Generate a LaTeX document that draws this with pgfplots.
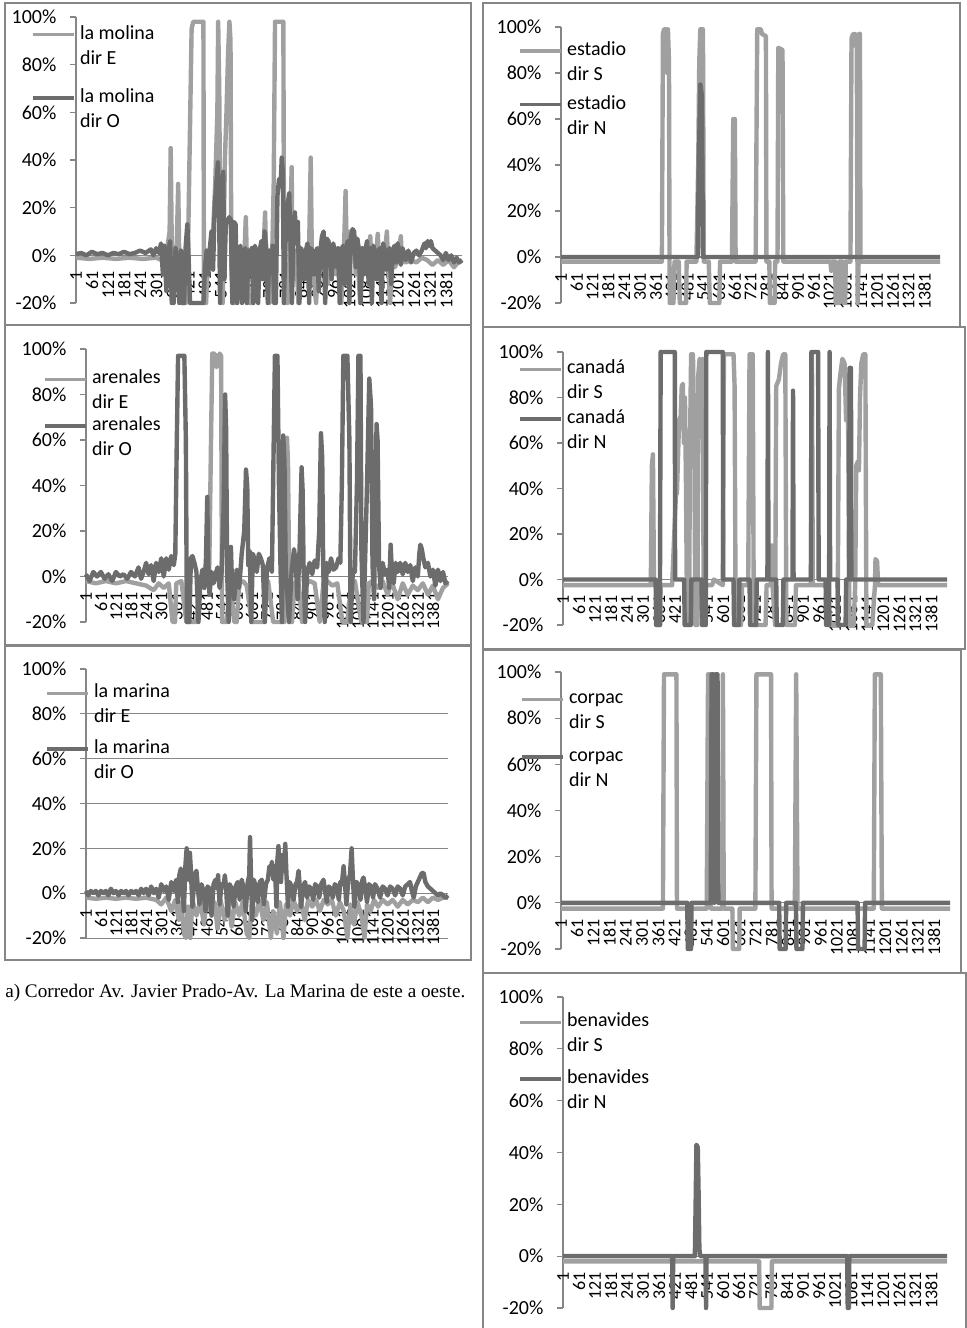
\documentclass[border=0pt]{standalone}
\usepackage{fontspec}
\setmainfont{Carlito}
\newfontfamily\capfont{Liberation Serif}
\usepackage{pgfplots}
\pgfplotsset{compat=1.18}
\definecolor{lightser}{RGB}{160,160,160}
\definecolor{darkser}{RGB}{108,108,108}
\definecolor{axisgray}{RGB}{134,134,134}
\newcommand{\lgd}[2]{\begin{tabular}[t]{@{}l@{}}#1\\#2\end{tabular}}
\pgfplotsset{
  panel/.style={
    scale only axis, anchor=south west,
    xmin=1, xmax=1440, ymin=-20, ymax=100,
    axis x line=middle, axis y line=left,
    axis line style={-, draw=axisgray, line width=0.8pt},
    hide obscured x ticks=false, hide obscured y ticks=false,
    xtick={1,61,...,1381},
    ytick={-20,0,...,100},
    tick align=outside,
    major tick length=4.5pt,
    ytick style={draw=axisgray, line width=0.8pt},
    xtick style={draw=none},
    yticklabel style={font=\fontsize{15}{17}\selectfont},
    xticklabel style={font=\fontsize{13.5}{15}\selectfont, yshift=-7.5pt, rotate=90, anchor=east, inner sep=0pt},
    yticklabel={\pgfmathprintnumber{\tick}\%},
    yticklabel style={anchor=east, inner sep=0pt, xshift=-10pt},
    /pgf/number format/assume math mode=true,
    /pgf/number format/1000 sep={},
    clip=false,
    every axis plot/.append style={line width=3.3pt, line join=round, no markers},
    legend image code/.code={\draw[##1, line width=2.6pt] (0pt,3.5pt) -- (31pt,3.5pt);},
    legend style={draw=none, fill=none, inner sep=0pt, column sep=3pt,
      cells={anchor=base west}, nodes={inner sep=0pt},
      font=\fontsize{15}{18.75}\selectfont, anchor=north west},
  }
}
\begin{document}
\begin{tikzpicture}
\path[use as bounding box] (0,0) rectangle (725.25pt,-996pt);
% frames
\begin{scope}[draw=axisgray, line width=1.1pt]
\draw (3.75pt,-2.25pt) rectangle (353.25pt,-243.75pt);
\draw (3.75pt,-243.75pt) rectangle (353.25pt,-483.75pt);
\draw (3.75pt,-484.5pt) rectangle (353.25pt,-720pt);
\draw (362.25pt,-2.25pt) rectangle (720pt,-245.25pt);
\draw (362.25pt,-245.25pt) rectangle (723.75pt,-486.75pt);
\draw (362.25pt,-487.5pt) rectangle (720.75pt,-729.75pt);
\draw (362.25pt,-1010pt) -- (362.25pt,-729.75pt) -- (724.5pt,-729.75pt) -- (724.5pt,-1010pt);
\end{scope}

% ---------------- la molina
\begin{axis}[panel, at={(57pt,-227.25pt)}, width=289.5pt, height=214.5pt,
  legend style={at={(axis description cs:-0.1166,0.985)}, row sep=33pt}]
\addplot[color=lightser] coordinates {(1,-1)(50,-1.5)(100,-1)(150,-1.5)(200,-1)(250,-1.5)(300,-1)(320,-2)(340,2)(350,10)(354,45)(358,5)(366,-2)(375,-3)(382,30)(386,-2)(395,-20)(410,-20)(418,-2)(424,40)(432,95)(438,98)(476,98)(478,-20)(486,-20)(492,-3)(500,-1)(510,5)(520,30)(528,60)(531,98)(535,70)(540,-10)(548,-20)(556,40)(562,60)(568,85)(573,98)(577,90)(580,-5)(586,-20)(594,-20)(600,-2)(610,-1)(620,-5)(628,-2)(634,16)(638,-2)(646,-20)(660,-20)(670,-3)(680,-1)(690,-6)(700,2)(706,18)(710,-2)(718,-15)(724,-20)(732,-2)(738,30)(743,98)(774,98)(777,-20)(790,-20)(797,-2)(805,37)(808,-3)(815,-10)(822,2)(830,-20)(840,-3)(850,-1)(860,-8)(870,3)(876,41)(880,2)(888,-10)(896,-20)(904,-2)(912,-1)(922,-5)(930,-2)(940,-12)(950,-2)(960,-1)(970,-8)(980,-2)(990,-20)(998,-2)(1002,10)(1006,27)(1010,2)(1016,-3)(1020,10)(1028,9)(1036,10)(1044,-8)(1052,-2)(1060,-20)(1070,-2)(1080,-6)(1090,-1)(1098,8)(1102,-2)(1110,-10)(1118,-2)(1126,9)(1130,-1)(1140,-8)(1150,-2)(1160,10)(1164,-2)(1172,-20)(1180,-2)(1190,-5)(1200,-2)(1212,8)(1216,-2)(1230,-3)(1250,-2)(1270,-3)(1290,-1)(1310,-2)(1330,-4)(1350,-2)(1370,-4)(1390,-2)(1410,-5)(1425,-3)(1440,-2)};
\addlegendentry{\lgd{la molina}{dir E}}
\addplot[color=darkser] coordinates {(1,0.5)(20,1)(40,0)(60,1.5)(80,0.5)(100,1)(120,0)(140,1)(160,0.5)(180,1.5)(200,0.5)(220,1)(240,2)(260,1)(280,2.5)(290,0)(300,3)(310,1)(318,5)(325,-8)(330,4)(338,-15)(345,2)(352,6)(358,-20)(365,-20)(372,3)(380,-5)(386,-20)(392,2)(398,-20)(404,-20)(410,4)(416,13)(420,2)(426,-20)(476,-20)(482,-5)(488,2)(494,-8)(500,3)(506,10)(512,-6)(518,20)(524,30)(530,39)(534,25)(538,-20)(542,5)(546,15)(550,35)(554,-10)(560,15)(566,14)(572,16)(578,15)(584,-20)(590,14)(596,13)(602,-20)(608,2)(614,4)(620,-20)(626,1)(632,3)(638,-20)(644,2)(650,-8)(656,3)(662,-20)(668,4)(674,1)(680,-20)(686,2)(692,6)(698,-10)(704,10)(710,3)(716,-20)(722,2)(728,-5)(734,4)(740,-20)(746,-20)(752,25)(758,32)(764,30)(768,41)(772,35)(776,-20)(782,5)(788,20)(796,26)(800,8)(806,-20)(812,10)(817,18)(822,5)(828,14)(834,-20)(840,3)(846,1)(852,-10)(858,2)(864,5)(870,-20)(876,3)(882,2)(888,-8)(894,1)(900,3)(906,-15)(912,2)(918,8)(924,10)(930,-20)(936,7)(942,6)(948,2)(954,-10)(960,5)(966,1)(972,-5)(978,3)(984,-20)(990,2)(996,4)(1002,-12)(1008,3)(1014,6)(1020,-20)(1026,8)(1032,11)(1038,10)(1044,-5)(1050,7)(1056,2)(1062,-20)(1068,3)(1074,-8)(1080,2)(1086,6)(1092,-12)(1098,3)(1104,-20)(1110,4)(1116,1)(1122,-10)(1128,2)(1134,3)(1140,-20)(1146,5)(1152,2)(1158,-6)(1164,1)(1170,3)(1176,-12)(1182,2)(1188,4)(1194,-3)(1200,5)(1206,2)(1212,-4)(1218,3)(1224,1)(1230,-2)(1240,2)(1250,-3)(1260,1)(1270,2)(1280,0)(1290,2)(1300,5)(1306,3)(1312,6)(1318,4)(1324,6)(1330,3)(1340,2)(1350,1)(1360,0)(1370,-2)(1380,1)(1390,-2)(1400,0)(1410,-3)(1420,-1)(1430,-3)(1440,-2)};
\addlegendentry{\lgd{la molina}{dir O}}
\end{axis}

% ---------------- arenales
\begin{axis}[panel, at={(64.5pt,-466.5pt)}, width=271.5pt, height=204.75pt,
  legend style={at={(axis description cs:-0.1188,0.937)}, row sep=20.25pt}]
\addplot[color=lightser] coordinates {(1,-2)(40,-3)(80,-2)(120,-3)(160,-2)(200,-3)(240,-4)(270,-6)(290,-3)(310,-5)(330,-3)(345,-20)(355,-20)(360,-3)(380,-2)(400,-20)(440,-20)(455,-3)(470,-2)(490,-4)(498,60)(503,98)(512,98)(520,92)(526,95)(532,98)(538,97)(542,-20)(560,-20)(575,-3)(590,-20)(600,-20)(610,-3)(625,-2)(640,-4)(660,-20)(710,-20)(712,-3)(725,-2)(745,-20)(790,-20)(800,61)(804,50)(810,-20)(820,-20)(830,-3)(845,-2)(860,-20)(870,-4)(890,-2)(910,-3)(930,-20)(945,-3)(960,-2)(980,-4)(1000,-3)(1020,-20)(1040,-20)(1055,-3)(1070,-2)(1095,-20)(1118,-20)(1125,-3)(1140,-2)(1160,-5)(1180,-2)(1200,-8)(1215,-2)(1240,-10)(1260,-3)(1280,-8)(1300,-4)(1320,-6)(1340,-3)(1360,-8)(1380,-4)(1400,-10)(1420,-5)(1440,-3)};
\addlegendentry{\lgd{arenales}{dir E}}
\addplot[color=darkser] coordinates {(1,1)(15,-2)(30,2)(45,0)(60,2)(75,-1)(90,1)(105,-2)(120,2)(135,0)(150,1)(165,-1)(180,2)(195,0)(210,4)(220,-1)(230,2)(240,6)(250,1)(260,5)(270,-2)(280,6)(290,2)(300,8)(310,0)(320,8)(330,3)(340,9)(350,5)(356,10)(362,60)(367,97)(392,97)(398,60)(402,-20)(412,-20)(418,8)(424,9)(432,6)(440,2)(448,-20)(456,-2)(464,3)(472,-5)(478,8)(483,35)(487,5)(492,-8)(500,2)(508,-3)(516,1)(524,4)(532,-5)(540,2)(548,30)(554,80)(558,65)(562,2)(568,-20)(574,5)(577,13)(580,2)(590,-10)(600,3)(610,-5)(620,10)(630,20)(637,47)(642,40)(646,5)(652,11)(658,-20)(664,10)(670,8)(680,2)(688,10)(696,8)(704,5)(712,-20)(720,3)(730,8)(740,2)(746,50)(752,97)(762,97)(768,40)(774,5)(780,-20)(785,62)(790,50)(795,3)(808,-20)(818,2)(828,12)(835,5)(842,-10)(850,12)(858,48)(862,38)(866,3)(872,-20)(880,2)(890,6)(900,1)(910,7)(920,4)(928,20)(935,63)(940,52)(944,3)(950,-20)(958,6)(966,2)(975,8)(985,3)(995,4)(1005,8)(1012,6)(1018,40)(1024,97)(1040,97)(1048,60)(1053,-20)(1062,3)(1070,2)(1078,40)(1084,97)(1092,97)(1096,10)(1104,-20)(1110,5)(1118,40)(1127,87)(1134,75)(1140,5)(1146,-10)(1150,20)(1156,67)(1160,60)(1166,5)(1172,-5)(1180,6)(1190,1)(1200,3)(1206,-5)(1212,14)(1216,4)(1224,-3)(1232,6)(1240,2)(1250,6)(1260,1)(1270,6)(1280,2)(1290,5)(1300,-2)(1310,4)(1320,0)(1326,10)(1330,14)(1336,12)(1342,8)(1350,4)(1360,6)(1370,0)(1380,3)(1390,-4)(1400,3)(1410,-2)(1420,2)(1430,-3)(1440,-2)};
\addlegendentry{\lgd{arenales}{dir O}}
\end{axis}

% ---------------- la marina
\begin{axis}[panel, at={(64.5pt,-703.5pt)}, width=271.5pt, height=201.75pt,
  ytick={-20,0,...,80}, extra y ticks={100}, extra y tick style={grid=none},
  ymajorgrids, grid style={draw=axisgray, line width=0.75pt},
  legend style={at={(axis description cs:-0.1133,0.9584)}, row sep=27pt}]
\addplot[color=lightser] coordinates {(1,-2)(40,-2.5)(80,-2)(120,-2.5)(160,-2)(200,-2.5)(240,-2)(280,-3)(300,-5)(320,-2)(340,-8)(356,-3)(370,-12)(380,-4)(390,-18)(398,-20)(406,-6)(416,-20)(424,-3)(440,-10)(456,-4)(470,-14)(480,-3)(496,-8)(512,-4)(524,-16)(536,-3)(552,-12)(566,-4)(580,-15)(594,-4)(610,-10)(624,-4)(640,-18)(650,-20)(660,-5)(676,-10)(690,-3)(706,-12)(720,-4)(736,-20)(746,-8)(760,-18)(772,-4)(786,-20)(796,-5)(812,-10)(826,-3)(840,-8)(856,-4)(870,-12)(884,-3)(900,-6)(916,-3)(930,-8)(946,-3)(962,-5)(978,-3)(994,-10)(1010,-4)(1026,-8)(1040,-20)(1052,-5)(1066,-14)(1080,-4)(1096,-10)(1108,-20)(1118,-5)(1132,-8)(1146,-3)(1162,-6)(1180,-3)(1200,-5)(1220,-3)(1240,-6)(1260,-3)(1280,-5)(1300,-3)(1320,-4)(1340,-2)(1360,-4)(1380,-2)(1400,-3)(1420,-2)(1440,-2)};
\addlegendentry{\lgd{la marina}{dir E}}
\addplot[color=darkser] coordinates {(1,1)(10,-1)(20,1)(30,0)(40,1)(50,-1)(60,1)(70,0)(80,1)(90,-1)(100,2)(110,0)(120,1)(130,-1)(140,1)(150,0)(160,1)(170,-1)(180,1)(190,0)(200,1)(210,-1)(220,2)(230,0)(240,2)(250,-1)(260,3)(270,0)(280,2)(290,-2)(300,4)(310,1)(320,3)(330,-3)(340,5)(350,1)(360,6)(366,-4)(372,8)(378,11)(384,3)(390,-8)(396,12)(401,20)(406,15)(410,6)(414,18)(418,10)(424,-6)(430,5)(436,9)(440,10)(446,2)(452,-5)(460,4)(468,1)(476,-8)(484,3)(492,2)(500,-10)(508,4)(516,6)(522,2)(526,8)(532,-5)(540,4)(548,3)(553,8)(558,2)(564,-10)(572,4)(580,2)(588,-6)(596,3)(604,5)(612,-3)(620,6)(628,2)(636,-8)(644,5)(650,8)(653,25)(657,7)(662,-12)(668,6)(676,3)(684,-4)(692,5)(700,6)(708,-5)(716,4)(724,6)(730,12)(735,9)(740,14)(746,6)(752,12)(758,-6)(762,15)(766,21)(770,13)(776,5)(782,17)(788,10)(793,22)(798,8)(804,-6)(810,5)(818,3)(826,-3)(834,4)(840,5)(846,10)(850,4)(856,-6)(864,3)(872,5)(880,-2)(888,3)(896,2)(904,-3)(912,4)(920,3)(928,-2)(936,4)(945,6)(950,2)(958,-4)(966,3)(974,2)(982,-2)(990,4)(998,3)(1006,-3)(1012,5)(1018,4)(1025,12)(1030,5)(1036,-5)(1044,6)(1050,8)(1057,20)(1062,6)(1068,-6)(1076,5)(1084,4)(1092,-3)(1100,6)(1104,7)(1110,3)(1118,-4)(1126,4)(1134,3)(1142,-2)(1150,4)(1160,2)(1170,-2)(1180,3)(1190,2)(1200,-1)(1210,3)(1220,2)(1230,-1)(1240,3)(1250,2)(1260,-1)(1270,3)(1280,4)(1289,5)(1296,1)(1304,-2)(1312,3)(1320,5)(1328,7)(1336,9)(1343,9)(1350,5)(1360,3)(1370,2)(1380,1)(1390,0)(1400,-1)(1410,0)(1420,-1)(1430,-2)(1440,-1)};
\addlegendentry{\lgd{la marina}{dir O}}
\end{axis}

% ---------------- estadio
\begin{axis}[panel, at={(420.75pt,-227.25pt)}, width=284.25pt, height=207pt,
  legend style={at={(axis description cs:-0.1135,0.96)}, row sep=25.5pt}]
\addplot[color=lightser] coordinates {(1,-2)(384,-2)(388,97)(392,99)(400,99)(404,80)(407,99)(411,85)(413,-2)(414,-20)(428,-20)(432,-2)(448,-2)(452,-20)(476,-20)(478,-2)(515,-2)(522,40)(526,85)(530,99)(540,99)(543,-2)(562,-2)(566,-20)(602,-20)(605,-2)(650,-2)(655,60)(661,60)(664,-2)(740,-2)(746,99)(760,99)(764,97)(779,96)(781,-2)(792,-2)(794,-20)(812,-20)(814,-2)(823,-2)(826,91)(842,90)(845,-2)(1024,-2)(1027,-6)(1030,-2)(1042,-2)(1044,-20)(1056,-20)(1058,-2)(1070,-2)(1073,-20)(1080,-20)(1082,-2)(1100,-2)(1104,95)(1110,97)(1114,92)(1118,97)(1124,96)(1127,-20)(1131,-2)(1133,97)(1136,97)(1138,-2)(1440,-2)};
\addlegendentry{\lgd{estadio}{dir S}}
\addplot[color=darkser] coordinates {(1,0)(520,0)(524,40)(530,75)(536,70)(540,0)(1440,0)};
\addlegendentry{\lgd{estadio}{dir N}}
\end{axis}

% ---------------- canada
\begin{axis}[panel, at={(422.25pt,-468.75pt)}, width=288pt, height=204.75pt,
  legend style={at={(axis description cs:-0.1172,0.9846)}, row sep=22.5pt}]
\addplot[color=lightser] coordinates {(1,-2.5)(330,-2.5)(334,50)(338,55)(342,-2.5)(350,-2.5)(352,-20)(365,-20)(367,-2.5)(410,-2.5)(424,37)(428,38)(436,70)(442,72)(446,85)(450,86)(454,60)(458,80)(462,40)(466,-20)(474,-20)(476,50)(481,99)(488,99)(493,60)(497,-20)(505,-20)(508,90)(513,97)(518,96)(524,97)(528,-2.5)(560,-2.5)(566,0)(600,-2.5)(604,99)(640,99)(644,85)(648,-20)(668,-20)(672,-2.5)(695,-2.5)(700,99)(712,99)(716,-20)(760,-20)(764,-2.5)(780,-2.5)(783,15)(786,-2.5)(796,-20)(800,85)(810,88)(818,95)(826,99)(834,99)(838,-20)(870,-20)(874,-2.5)(930,-2.5)(934,99)(937,-2.5)(990,-2.5)(1003,-20)(1030,-20)(1035,84)(1040,90)(1048,97)(1056,95)(1062,70)(1066,90)(1070,60)(1074,-20)(1090,-20)(1096,-2.5)(1100,50)(1106,52)(1110,48)(1114,80)(1119,95)(1126,99)(1134,99)(1138,-20)(1160,-20)(1170,-2.5)(1172,9)(1178,8)(1182,-2.5)(1440,-2.5)};
\addlegendentry{\lgd{canadá}{dir S}}
\addplot[color=darkser] coordinates {(1,0)(348,0)(350,-20)(364,-20)(367,100)(420,100)(421,0)(455,0)(457,-20)(480,-20)(482,0)(520,0)(522,-20)(536,-20)(538,100)(600,100)(601,0)(640,0)(642,-20)(660,-20)(662,0)(700,0)(702,-20)(725,-20)(727,0)(767,0)(769,100)(771,0)(800,0)(802,-20)(825,-20)(827,0)(861,0)(863,83)(865,0)(930,0)(932,100)(957,100)(959,0)(985,0)(987,-20)(998,-20)(1000,100)(1002,0)(1030,0)(1032,-20)(1060,-20)(1062,0)(1073,0)(1075,93)(1080,93)(1082,0)(1440,0)};
\addlegendentry{\lgd{canadá}{dir N}}
\end{axis}

% ---------------- corpac
\begin{axis}[panel, at={(420.75pt,-711.75pt)}, width=291.75pt, height=207.75pt,
  legend style={at={(axis description cs:-0.1054,0.9487)}, row sep=28.5pt}]
\addplot[color=lightser] coordinates {(1,-2.5)(378,-2.5)(382,99)(428,99)(430,-2.5)(540,-2.5)(545,99)(552,99)(556,-2.5)(598,-2.5)(600,99)(603,-2.5)(635,-2.5)(637,-20)(660,-20)(662,-2.5)(720,-2.5)(724,99)(778,99)(780,-2.5)(866,-2.5)(871,99)(876,-2.5)(1158,-2.5)(1162,99)(1184,99)(1188,-2.5)(1440,-2.5)};
\addlegendentry{\lgd{corpac}{dir S}}
\addplot[color=darkser] coordinates {(1,0)(468,0)(470,-20)(482,-20)(484,0)(555,0)(558,99)(564,99)(568,0)(572,99)(580,99)(583,0)(808,0)(810,-20)(832,-20)(834,0)(870,0)(872,-20)(894,-20)(896,0)(1098,0)(1100,-20)(1124,-20)(1126,0)(1440,0)};
\addlegendentry{\lgd{corpac}{dir N}}
\end{axis}

% ---------------- benavides
\begin{axis}[panel, at={(422.25pt,-981pt)}, width=288pt, height=233.25pt,
  legend style={at={(axis description cs:-0.1172,0.9608)}, row sep=27.75pt}]
\addplot[color=lightser] coordinates {(1,-2)(736,-2)(738,-20)(782,-20)(784,-2)(1440,-2)};
\addlegendentry{\lgd{benavides}{dir S}}
\addplot[color=darkser] coordinates {(1,0)(410,0)(412,-20)(414,0)(495,0)(498,20)(501,43)(506,42)(509,25)(512,3)(515,0)(535,0)(537,-20)(539,0)(1066,0)(1068,-20)(1072,-20)(1074,0)(1440,0)};
\addlegendentry{\lgd{benavides}{dir N}}
\end{axis}

\node[anchor=base west, inner sep=0pt, font=\capfont\fontsize{14.4}{17}\selectfont] at (3.75pt,-747.75pt) {a) Corredor Av. Javier Prado-Av. La Marina de este a oeste.};
\end{tikzpicture}
\end{document}
